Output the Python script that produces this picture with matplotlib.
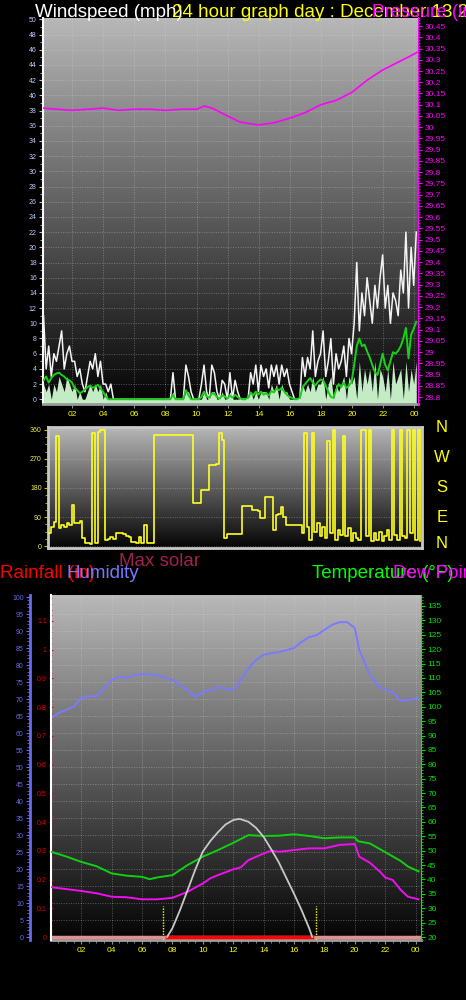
import numpy as np
import matplotlib
matplotlib.use('Agg')
import matplotlib.pyplot as plt
from matplotlib.colors import LinearSegmentedColormap
from matplotlib.ticker import MultipleLocator

plt.rcParams['font.family'] = ['Liberation Sans', 'DejaVu Sans']

# ---- wind, one sample every 10 minutes starting 00:09 ----
wind_start = 0.15
gust = [11, 4, 7, 3, 6, 5,  7, 9, 4, 6, 7, 5,  5, 3, 4, 2, 1, 3,  5, 4, 6, 3, 5, 2,
        2, 1, 2, 0, 0, 0,  0, 0, 0, 0, 0, 0,  0, 0, 0, 0, 0, 0,  0, 0, 0, 0, 0, 0,
        0, 0, 3.5, 0, 0, 0,  0, 4.5, 3, 1, 0, 0,  0, 2, 4.5, 1, 0, 4.5,  3.5, 1, 0, 2.5, 2, 0,
        3.5, 0, 2.5, 1, 0, 0,  0, 0, 3.5, 2, 4.5, 1,  4.5, 3, 4, 1.5, 4.5, 3,  4.5, 2, 4.5, 3, 4, 2,
        1, 0, 0, 0, 5.5, 3,  5.5, 4, 9, 3, 5, 6,  9, 3, 5, 8, 2, 6,  4, 5, 7, 3, 8, 6,
        10, 18, 9, 14, 11, 16,  13, 10, 15, 12, 16, 19,  12, 15, 10, 14, 13, 11,  17, 14, 22, 12, 20, 15,
        22]
speed = [2, 1, 2, 0, 2, 1,  3, 2, 1, 3, 2, 1,  2, 0, 1, 0, 0, 1,  2, 1, 2, 1, 2, 0,
         1, 0, 0, 0, 0, 0,  0, 0, 0, 0, 0, 0,  0, 0, 0, 0, 0, 0,  0, 0, 0, 0, 0, 0,
         0, 0, 1, 0, 0, 0,  0, 1, 1, 0, 0, 0,  0, 0, 1, 0, 0, 1,  1, 0, 0, 1, 0, 0,
         1, 0, 0, 0, 0, 0,  0, 0, 1, 0, 1, 0,  1, 1, 1, 0, 2, 1,  2, 0, 2, 1, 1, 0,
         0, 0, 0, 0, 2, 1,  2, 1, 3, 1, 2, 2,  3, 0, 2, 3, 0, 2,  1, 2, 3, 0, 3, 2,
         3, 0, 5, 1, 4, 2,  4, 1, 5, 0, 4, 3,  1, 4, 0, 5, 2, 3,  4, 0, 5, 1, 4, 2,
         5]
avg_speed = [2.5, 3.0, 2.2, 2.8, 3.2, 3.4,  3.5, 3.2, 3.0, 2.6, 2.5, 2.2,  1.5, 1.2, 0.8, 1.0, 1.3, 1.6,
             1.8, 1.5, 1.7, 1.9, 1.4, 1.0,  0.4, 0, 0, 0, 0, 0,  0, 0, 0, 0, 0, 0,
             0, 0, 0, 0, 0, 0,  0, 0, 0, 0, 0, 0,  0, 0, 0.6, 0, 0, 0,
             0, 1.2, 0.5, 0, 0, 0,  0, 0.3, 1.0, 0.4, 0.2, 0.8,  0.7, 0.3, 0.1, 0.5, 0.4, 0.1,
             0.5, 0.2, 0.6, 0.3, 0.1, 0,  0, 0.2, 0.9, 0.5, 1.0, 0.6,  1.0, 0.6, 0.8, 0.5, 1.1, 0.9,
             1.4, 1.2, 1.5, 1.0, 0.6, 0.3,  0.2, 0, 0, 0.2, 1.5, 2.0,  2.4, 2.8, 2.2, 1.8, 2.3, 2.6,
             2.5, 1.8, 1.0, 0.3, 0.2, 1.2,  2.0, 1.6, 2.2, 1.5, 1.8, 2.3,  4.5, 7.0, 8.0, 7.0, 7.2, 6.3,
             5.5, 4.5, 3.6, 3.2, 4.5, 6.0,  4.5, 3.8, 5.0, 6.2, 6.0, 6.4,  7.0, 8.0, 9.4, 5.4, 8.5, 9.3,
             10.2]
wind_dir = [40, 60, 75, 340, 55, 65,  60, 70, 65, 127, 70, 72,  78, 25, 10, 8, 5, 350,
            10, 355, 360, 360, 20, 22,  28, 22, 40, 40, 40, 38,  30, 28, 12, 12, 10, 28,
            10, 65, 10, 8, 10, 345,  345, 345, 345, 345, 345, 345,  345, 345, 345, 345, 345, 345,
            345, 345, 133, 133, 133, 175,  175, 175, 250, 250, 250, 255,  350, 330, 25, 38, 38, 38,
            38, 38, 38, 125, 125, 125,  125, 112, 112, 110, 87, 88,  152, 152, 152, 50, 95, 100,
            120, 90, 65, 65, 65, 65,  65, 65, 40, 350, 60, 20,  350, 45, 70, 30, 60, 25,
            325, 40, 360, 20, 50, 35,  340, 30, 55, 15, 40, 25,  20, 360, 360, 30, 360, 15,
            40, 20, 45, 15, 30, 50,  20, 360, 35, 20, 360, 30,  25, 360, 40, 360, 20, 360,
            15]
wind_hours = wind_start + np.arange(len(gust)) / 6.0

# ---- pressure (in) ----
press_hours = [0.12, 1, 2, 3, 4, 5, 6, 7, 8, 9, 10, 10.5, 11, 12, 12.8, 14, 15, 16, 17,
               18, 19, 20, 21, 22, 23, 24, 24.2]
pressure = [30.085, 30.08, 30.075, 30.08, 30.085, 30.075, 30.08, 30.08, 30.075, 30.08, 30.08,
            30.094, 30.085, 30.05, 30.023, 30.01, 30.02, 30.04, 30.065, 30.10, 30.12, 30.155,
            30.21, 30.255, 30.29, 30.325, 30.333]

# ---- temperature / dew point (F), humidity (%), solar ----
temp_hours = [0.03, 1, 2, 3, 4, 5, 6, 6.5, 7, 8, 9, 10, 11, 12, 13, 14, 15, 16, 17, 18, 19,
              20, 20.2, 21, 22, 23, 23.5, 24.2]
temperature = [49.6, 48.0, 46.1, 44.6, 42.1, 41.3, 40.9, 40.1, 40.7, 41.5, 45.0, 47.9, 50.2,
               52.7, 55.4, 55.1, 55.2, 55.7, 55.1, 54.3, 54.6, 54.6, 53.3, 52.5, 49.5, 46.5,
               44.5, 42.8]
dew_hours = [0.03, 2, 3, 4, 5, 6, 7, 8, 9, 10, 10.5, 11, 12, 12.5, 13, 14, 14.5, 15, 16, 17,
             18, 19, 20, 20.3, 21, 21.7, 22, 22.5, 23, 23.5, 24.2]
dew_point = [37.3, 36.0, 35.2, 34.0, 33.8, 33.1, 33.1, 33.6, 35.7, 38.6, 40.4, 41.5, 43.5,
             44.2, 46.7, 49.0, 50.0, 49.6, 50.2, 50.8, 50.8, 52.0, 52.3, 47.9, 45.8, 42.5,
             40.7, 39.8, 36.5, 34.0, 33.1]
hum_hours = [0.03, 0.5, 1, 1.5, 2, 2.5, 3, 3.5, 4, 4.5, 5, 5.5, 6, 7, 8, 9, 9.5, 10, 10.5, 11,
             12, 12.5, 13, 13.5, 14, 14.5, 15, 16, 16.5, 17, 17.5, 18, 18.5, 19, 19.5, 20,
             20.3, 21, 21.5, 22, 22.5, 23, 23.5, 24.2]
humidity = [64.4, 65.9, 66.8, 67.7, 70.3, 70.9, 70.7, 73.2, 75.6, 76.6, 76.2, 77.0, 77.4, 77.0,
            75.6, 72.6, 70.6, 72.0, 72.6, 73.5, 72.6, 75.6, 79.0, 81.5, 83.0, 83.5, 83.8, 85.0,
            86.8, 88.2, 88.8, 90.3, 91.8, 92.6, 92.6, 90.9, 84.4, 77.0, 74.0, 72.6, 72.0, 69.5,
            69.7, 70.3]
solar_hours = [7.65, 8, 8.5, 9, 9.5, 10, 10.5, 11, 11.5, 12, 12.35, 12.5, 13, 13.5, 14, 14.5,
               15, 15.5, 16, 16.5, 17, 17.2]
solar = [0, 32, 98, 171, 245, 311, 350, 382, 410, 426, 430, 429, 420, 398, 365, 320, 272, 215,
         158, 98, 32, 0]
rain_hours = [0.03, 24.2]
rain = [0, 0]
sunrise, sunset = 7.38, 17.42

hour_ticks = list(range(2, 25, 2))
hour_labels = ['%02d' % (h % 24) for h in hour_ticks]

fig = plt.figure(figsize=(4.66, 10), dpi=100, facecolor='black')

def px_axes(left, top, right, bottom):
    return fig.add_axes([left / 466, 1 - bottom / 1000, (right - left) / 466, (bottom - top) / 1000])

bg_cmap = LinearSegmentedColormap.from_list('bg', ['#040404', '#b8b8b8'])

def shade(ax):
    grad = np.linspace(0, 1, 256).reshape(-1, 1)
    ax.imshow(grad, extent=[0, 1, 0, 1], transform=ax.transAxes, origin='lower',
              aspect='auto', cmap=bg_cmap, zorder=0)

def hide_spines(ax):
    for s in ax.spines.values():
        s.set_visible(False)

grid_kw = dict(color='#dcdcdc', alpha=0.35, lw=0.7, linestyle=(0, (1, 1.5)))

# ================= wind speed / pressure =================
ax1 = px_axes(43, 17.5, 418, 404)
shade(ax1)
ax1.set_facecolor('black')
ax1.fill_between(wind_hours, -1, speed, color='#c4ecc4', lw=0, zorder=2)
ax1.plot(wind_hours, gust, color='#f4f4f4', lw=1.1, zorder=3)
ax1.plot(wind_hours, avg_speed, color='#18d018', lw=1.4, zorder=4)
ax1.set_xlim(0.116, 24.26)
ax1.set_ylim(-0.62, 50.24)
ax1.set_yticks(range(0, 51, 2))
ax1.yaxis.set_minor_locator(MultipleLocator(1))
ax1.set_xticks(hour_ticks)
ax1.set_xticklabels(hour_labels)
ax1.tick_params(axis='y', which='both', colors='#c0c0c0', labelcolor='#b8ccff',
                labelsize=5, length=3, pad=1.5)
ax1.tick_params(axis='y', which='minor', length=2)
ax1.tick_params(axis='x', colors='#909090', labelcolor='#ffff00', labelsize=6, length=3, pad=2)
ax1.set_axisbelow(True)
ax1.grid(True, **grid_kw)
hide_spines(ax1)
ax1.spines['left'].set_visible(True)
ax1.spines['left'].set_color('white')
ax1.spines['left'].set_linewidth(1.5)
ax1.spines['bottom'].set_visible(True)
ax1.spines['bottom'].set_color('#9a9a9a')
ax1.spines['bottom'].set_linewidth(2)

ax1p = ax1.twinx()
ax1p.plot(press_hours, pressure, color='#ff00ff', lw=1.2)
ax1p.set_ylim(28.769, 30.488)
press_ticks = [round(28.8 + 0.05 * i, 2) for i in range(34)]
ax1p.set_yticks(press_ticks)
ax1p.set_yticklabels(['%g' % v for v in press_ticks])
ax1p.yaxis.set_minor_locator(MultipleLocator(0.0125))
ax1p.tick_params(axis='y', which='both', colors='#ff00ff', labelsize=6, length=3, pad=1.5)
ax1p.tick_params(axis='y', which='minor', length=1.5)
hide_spines(ax1p)
ax1p.spines['right'].set_visible(True)
ax1p.spines['right'].set_color('#ff00ff')

# ================= wind direction =================
ax2 = px_axes(48, 427, 422, 548)
shade(ax2)
ax2.plot(wind_hours, wind_dir, color='#ffff22', lw=1.2, drawstyle='steps-post', zorder=3)
ax2.set_xlim(0.116, 24.26)
ax2.set_ylim(-6.2, 369.3)
ax2.set_yticks([0, 90, 180, 270, 360])
ax2.yaxis.set_minor_locator(MultipleLocator(22.5))
ax2.set_xticks([])
ax2.tick_params(axis='y', which='both', colors='#c8c800', labelcolor='#f0f060',
                labelsize=5, length=3, pad=1.5)
ax2.tick_params(axis='y', which='minor', length=2)
ax2.set_axisbelow(True)
ax2.grid(True, axis='y', **grid_kw)
for s in ax2.spines.values():
    s.set_color('#c8c8c8')
    s.set_linewidth(2)

for letter, y in zip(['N', 'W', 'S', 'E', 'N'], [428, 458, 488, 517, 544]):
    fig.text(442 / 466, 1 - y / 1000, letter, color='#ffff00', fontsize=12,
             ha='center', va='center')

# ================= temperature / humidity =================
ax3 = px_axes(51, 595, 421, 940)
shade(ax3)
ax3.plot(hum_hours, humidity, color='#7a7aff', lw=1.4, zorder=3)
ax3.vlines([sunrise, sunset], -1, 9.1, colors='#ffff00', linestyles=(0, (1, 1)), lw=1, zorder=3)
ax3.set_xlim(0.01, 24.36)
ax3.set_ylim(-0.88, 100.59)
ax3.set_yticks(range(0, 101, 5))
ax3.yaxis.set_minor_locator(MultipleLocator(1))
ax3.set_xticks(hour_ticks)
ax3.set_xticklabels(hour_labels)
ax3.xaxis.set_minor_locator(MultipleLocator(0.5))
ax3.tick_params(axis='y', which='both', colors='#6a6aee', labelsize=5, length=3, pad=1.5)
ax3.tick_params(axis='y', which='minor', length=2)
ax3.tick_params(axis='x', which='both', colors='#909090', labelcolor='#ffff00',
                labelsize=6, length=3, pad=2)
ax3.tick_params(axis='x', which='minor', length=2)
ax3.set_axisbelow(True)
ax3.grid(True, **grid_kw)
hide_spines(ax3)
ax3.spines['left'].set_visible(True)
ax3.spines['left'].set_position(('outward', 15.1))
ax3.spines['left'].set_color('#6a6aee')
ax3.spines['left'].set_linewidth(2)
ax3.spines['bottom'].set_visible(True)
ax3.spines['bottom'].set_color('#a0a0a0')
ax3.spines['bottom'].set_linewidth(2)

ax_r = ax3.twinx()
ax_r.plot(rain_hours, rain, color='#e09090', lw=2.5, zorder=2)
ax_r.plot([solar_hours[0], solar_hours[-1]], [rain[0], rain[0]], color='#ff0000', lw=2.5, zorder=3)
ax_r.set_ylim(-0.0104, 1.1905)
ax_r.yaxis.tick_left()
rain_ticks = [round(0.1 * i, 1) for i in range(12)]
ax_r.set_yticks(rain_ticks)
ax_r.set_yticklabels(['%g' % v for v in rain_ticks])
ax_r.yaxis.set_minor_locator(MultipleLocator(0.02))
ax_r.tick_params(axis='y', which='both', colors='#e00000', labelsize=5, length=3,
                 direction='inout', pad=1.5)
ax_r.tick_params(axis='y', which='minor', length=2)
hide_spines(ax_r)
ax_r.spines['left'].set_visible(True)
ax_r.spines['left'].set_color('white')
ax_r.spines['left'].set_linewidth(1.5)

ax_t = ax3.twinx()
ax_t.plot(temp_hours, temperature, color='#10d010', lw=1.4)
ax_t.plot(dew_hours, dew_point, color='#ee10ee', lw=1.4)
ax_t.set_ylim(18.96, 138.82)
ax_t.set_yticks(range(20, 136, 5))
ax_t.yaxis.set_minor_locator(MultipleLocator(1))
ax_t.tick_params(axis='y', which='both', colors='#00e000', labelsize=6, length=3, pad=1.5)
ax_t.tick_params(axis='y', which='minor', length=1.5)
hide_spines(ax_t)
ax_t.spines['right'].set_visible(True)
ax_t.spines['right'].set_color('#30d030')
ax_t.spines['right'].set_linestyle((0, (2, 1)))

ax_s = ax3.twinx()
ax_s.plot(solar_hours, solar, color='#c8c8c8', lw=1.3)
ax_s.set_ylim(-10.9, 1246)
ax_s.axis('off')

# ================= titles =================
title_size = 13.5
fig.text(35 / 466, 1 - 17 / 1000, 'Windspeed (mph)', color='white', fontsize=title_size, va='baseline')
fig.text(172 / 466, 1 - 17 / 1000, '24 hour graph day : December 13 2009', color='#ffff00',
         fontsize=title_size, va='baseline')
fig.text(372 / 466, 1 - 17 / 1000, 'Pressure (in)', color='#ff00ff', fontsize=title_size, va='baseline')

fig.text(119 / 466, 1 - 566 / 1000, 'Max solar', color='#a02050', fontsize=title_size, va='baseline')
fig.text(0, 1 - 578 / 1000, 'Rainfall (in)', color='#ff0000', fontsize=title_size, va='baseline')
fig.text(67 / 466, 1 - 578 / 1000, 'Humidity', color='#7878ff', fontsize=title_size, va='baseline')
fig.text(312 / 466, 1 - 578 / 1000, 'Temperature (\u00b0F)', color='#00ff00', fontsize=title_size, va='baseline')
fig.text(393 / 466, 1 - 578 / 1000, 'Dew Point', color='#ff00ff', fontsize=title_size, va='baseline')

fig.savefig('out.png', dpi=100, facecolor='black')
